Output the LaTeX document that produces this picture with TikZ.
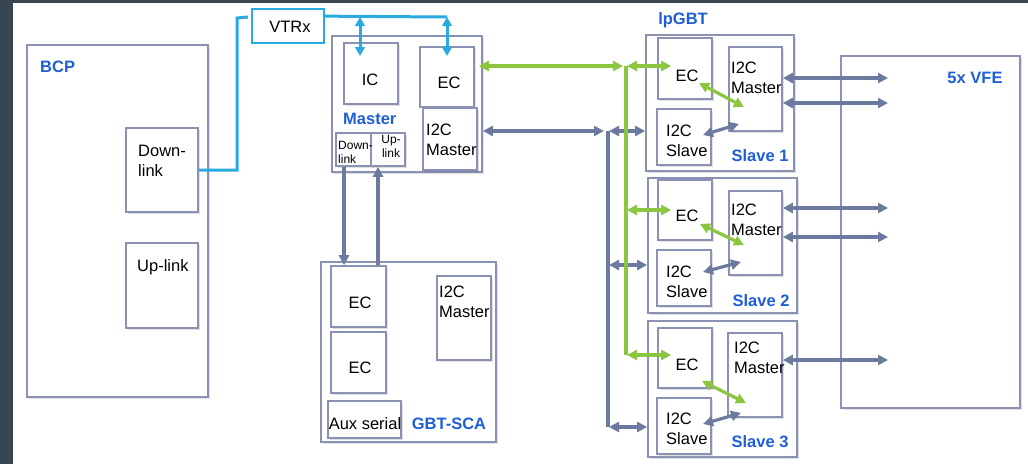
\documentclass[tikz,border=0pt]{standalone}
\usepackage{fontspec}
\setmainfont{Liberation Sans}
\usetikzlibrary{arrows.meta,fit,shadows}
\definecolor{boxc}{HTML}{8B91B3}
\definecolor{greyc}{HTML}{6D7AA0}
\definecolor{cyanc}{HTML}{29ABE2}
\definecolor{greenc}{HTML}{8CC63F}
\definecolor{bluec}{HTML}{1E5FD8}
\definecolor{darkc}{HTML}{37474F}
\begin{document}
\begin{tikzpicture}[x=1pt,y=-1pt,
  >={Triangle[length=10pt,width=10pt]},
  box/.style={draw=boxc,line width=1.7pt,inner sep=0pt,fill=white,
    drop shadow={shadow xshift=1.5pt,shadow yshift=-2pt,fill=black,opacity=0.12}},
  cbox/.style={draw=cyanc,line width=1.7pt,inner sep=0pt,fill=white},
  txt/.style={inner sep=0pt,font=\fontsize{16.5}{19.5}\selectfont,align=left},
  sm/.style={inner sep=0pt,font=\fontsize{12}{14}\selectfont,align=left},
  lbl/.style={inner sep=0pt,font=\fontsize{16.5}{19.5}\selectfont\bfseries,text=bluec},
  gy/.style={draw=greyc,line width=3.2pt},
  gr/.style={draw=greenc,line width=3.2pt},
  cy/.style={draw=cyanc,line width=3pt,>={Triangle[length=9pt,width=9.5pt]}},
]
\useasboundingbox (0,0) rectangle (1028,464);
\fill[white] (0,0) rectangle (1028,464);
\fill[darkc] (0,0) rectangle (13,464);
\fill[darkc] (0,0) rectangle (1028,3);

% ---------------- BCP
\node[box,fit={(27,45)(208,397)}] (bcp) {};
\node[lbl,anchor=west] (bcpl) at (40,67) {BCP};
\node[box,fit={(126,128)(198,212)}] (dl) {};
\node[txt,anchor=west] (dlt) at (138,161) {Down-\\link};
\node[box,fit={(126,243)(198,328)}] (ul) {};
\node[txt,anchor=west] (ult) at (137,267) {Up-link};

% ---------------- VTRx
\node[cbox,fit={(252,9)(324,43)}] (vtrx) {};
\node[txt] (vtrxt) at (290,27) {VTRx};

% ---------------- Master
\node[box,fit={(332,36)(482,172)}] (mst) {};
\node[box,fit={(344,43)(398,104)}] (ic) {};
\node[txt] (ict) at (370,80) {IC};
\node[box,fit={(420,47)(474,107)}] (mec) {};
\node[txt] (mect) at (449,83) {EC};
\node[box,fit={(423,108)(477,170)}] (mi2c) {};
\node[txt,anchor=west] (mi2ct) at (426,140) {I2C\\Master};
\node[lbl,anchor=west] (mstl) at (343,119) {Master};
\node[box,fit={(336,133)(372,166)}] (mdl) {};
\node[box,fit={(371,133)(405,166)}] (mul) {};
\node[sm,anchor=west] (mdlt) at (338,152) {Down-\\link};
\node[sm,align=center] (mult) at (391,146) {Up-\\link};

% ---------------- GBT-SCA
\node[box,fit={(321,262)(496,442)}] (sca) {};
\node[box,fit={(331,266)(386,327)}] (sec1) {};
\node[txt] (sec1t) at (360,303) {EC};
\node[box,fit={(331,332)(386,393)}] (sec2) {};
\node[txt] (sec2t) at (360,368) {EC};
\node[box,fit={(437,276)(491,360)}] (si2c) {};
\node[txt,anchor=west] (si2ct) at (439,302) {I2C\\Master};
\node[box,fit={(328,401)(401,438)}] (aux) {};
\node[txt] (auxt) at (365,424) {Aux serial};
\node[lbl] (scal) at (449,424) {GBT-SCA};

% ---------------- lpGBT slaves
\node[lbl] (lpl) at (683,20) {lpGBT};
% slave 1
\node[box,fit={(646,35)(794,171)}] (s1) {};
\node[box,fit={(658,38)(712,99)}] (ec1) {};
\node[txt] (ec1t) at (687,76) {EC};
\node[box,fit={(729,47)(782,131)}] (im1) {};
\node[txt,anchor=west] (im1t) at (731,78) {I2C\\Master};
\node[box,fit={(657,109)(711,165)}] (is1) {};
\node[txt,anchor=west] (is1t) at (666,141) {I2C\\Slave};
\node[lbl] (s1l) at (760,156) {Slave 1};
% slave 2
\node[box,fit={(648,178)(797,313)}] (s2) {};
\node[box,fit={(658,180)(712,240)}] (ec2) {};
\node[txt] (ec2t) at (687,216) {EC};
\node[box,fit={(729,191)(782,275)}] (im2) {};
\node[txt,anchor=west] (im2t) at (731,220) {I2C\\Master};
\node[box,fit={(657,250)(711,306)}] (is2) {};
\node[txt,anchor=west] (is2t) at (666,282) {I2C\\Slave};
\node[lbl] (s2l) at (761,301) {Slave 2};
% slave 3
\node[box,fit={(648,321)(797,457)}] (s3) {};
\node[box,fit={(658,328)(712,388)}] (ec3) {};
\node[txt] (ec3t) at (687,365) {EC};
\node[box,fit={(728,333)(782,417)}] (im3) {};
\node[txt,anchor=west] (im3t) at (734,358) {I2C\\Master};
\node[box,fit={(657,398)(711,454)}] (is3) {};
\node[txt,anchor=west] (is3t) at (666,429) {I2C\\Slave};
\node[lbl] (s3l) at (760,442) {Slave 3};

% ---------------- VFE
\node[box,fit={(841,56)(1020,408)}] (vfe) {};
\node[lbl] (vfel) at (975,78) {5x VFE};

% ---------------- coordinates
\coordinate (gj) at (626,66);
\coordinate (gb) at (626,355);
\coordinate (gya) at (608,131);
\coordinate (gyb) at (608,265);
\coordinate (gyc) at (608,427);
\coordinate (vt) at (248,17);
\coordinate (cyr) at (447,17);
\coordinate (cya) at (360,17);
\coordinate (bend) at (237,18);
\coordinate (vfeA) at (888,78);
\coordinate (vfeB) at (888,103);
\coordinate (vfeC) at (888,208);
\coordinate (vfeD) at (888,237);
\coordinate (vfeE) at (888,360);

% ---------------- grey connectors
\draw[gy,<->] ([xshift=5pt]mi2c.east |- gya) -- ([xshift=-4pt]gya);
\draw[gy] (gya) -- (gyc);
\draw[gy,<->] ([xshift=1pt]gya) -- (s1.west |- gya);
\draw[gy,<->] ([xshift=1pt]gyb) -- (s2.west |- gyb);
\draw[gy,<->] ([xshift=1pt]gyc) -- (s3.west |- gyc);
\draw[gy,->] ([xshift=-10pt]mdl.south) -- ([xshift=-10pt]mdl.south |- sec1.north);
\draw[gy,->] ([xshift=-10pt]mul.south |- sec1.north) -- ([xshift=-10pt]mul.south);
% to VFE
\draw[gy,<->] (im1.east |- vfeA) -- (vfeA);
\draw[gy,<->] (im1.east |- vfeB) -- (vfeB);
\draw[gy,<->] (im2.east |- vfeC) -- (vfeC);
\draw[gy,<->] (im2.east |- vfeD) -- (vfeD);
\draw[gy,<->] (im3.east |- vfeE) -- (vfeE);
% I2C slave <-> I2C master
\draw[gy,<->] (703,135) -- (739,124);
\draw[gy,<->] (703,272) -- (741,262);
\draw[gy,<->] (703,424) -- (741,413);

% ---------------- green connectors
\draw[gr,<->] ([xshift=4pt]mec.east |- gj) -- ([xshift=-3pt]gj);
\draw[gr] (gj) -- (gb);
\draw[gr,<->] ([xshift=1pt]gj) -- ([xshift=14pt]ec1.west |- gj);
\draw[gr,<->] ([xshift=1pt]gj |- ec2.west) -- ([xshift=14pt]ec2.west);
\draw[gr,<->] ([xshift=1pt]gb) -- ([xshift=14pt]ec3.west |- gb);
\draw[gr,<->] (699,83) -- (744,107);
\draw[gr,<->] (700,224) -- (744,245);
\draw[gr,<->] (702,381) -- (746,403);

% ---------------- cyan connectors
\draw[cy] (dl.east |- 0,170) -| (bend) -- (vt);
\draw[cy] ([yshift=-8pt]vtrx.north east) -- (cyr);
\draw[cy,<->] (cya) -- ++(0,39);
\draw[cy,<->] (cyr) -- ++(0,39);
\end{tikzpicture}
\end{document}
